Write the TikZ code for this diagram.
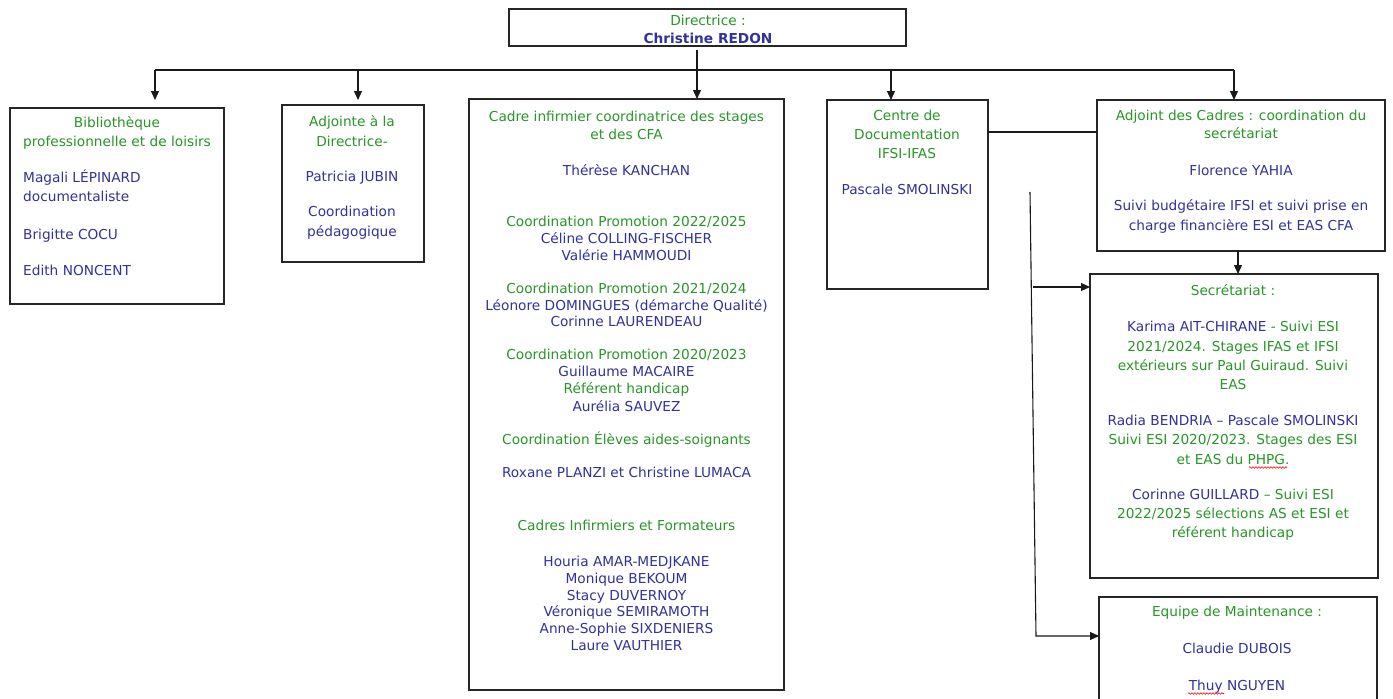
\documentclass[tikz,border=0pt]{standalone}
\usepackage{fontspec}
\setmainfont{DejaVu Sans}
\usetikzlibrary{arrows.meta,decorations.pathmorphing}
\definecolor{gr}{RGB}{40,150,40}
\definecolor{bl}{RGB}{50,50,155}
\newcommand\fsz{\fontsize{13.7}{16.5}\selectfont}
\tikzset{
  box/.style={draw=black!85, line width=1.1pt, inner sep=0pt, outer sep=0pt, anchor=north west},
  t/.style={anchor=base, inner sep=0pt, font=\fsz},
  g/.style={t, text=gr},
  b/.style={t, text=bl},
  bw/.style={b, anchor=base west},
  conn/.style={draw=black!90, line width=1.1pt},
  arr/.style={conn, -{Triangle[length=9pt,width=8pt]}},
  squig/.style={draw=red, line width=0.6pt, decorate, decoration={snake, amplitude=0.8pt, segment length=3pt}}
}
\begin{document}
\begin{tikzpicture}[x=1pt,y=-1pt]
\useasboundingbox (0,0) rectangle (1393,699);
\clip (0,0) rectangle (1393,699);
\fill[white] (0,0) rectangle (1393,699);

% boxes
\node[box, minimum width=397pt, minimum height=37pt] (dir) at (509,9) {};
\node[box, minimum width=214pt, minimum height=196pt] (bib) at (10,108) {};
\node[box, minimum width=142pt, minimum height=157pt] (adj) at (282,105) {};
\node[box, minimum width=315pt, minimum height=591pt] (cad) at (469,99) {};
\node[box, minimum width=161pt, minimum height=189pt] (cen) at (827,100) {};
\node[box, minimum width=288pt, minimum height=151pt] (adc) at (1097,100) {};
\node[box, minimum width=288pt, minimum height=304pt] (sec) at (1090,274) {};
\node[box, minimum width=278pt, minimum height=130pt] (equ) at (1099,597) {};

% connectors
\coordinate (stem) at (697,50);
\coordinate (bl) at (155,70);
\coordinate (br) at (1234,70);
\coordinate (ba) at (358,70);
\coordinate (bc) at (891,70);
\draw[conn] (bl) -- (br);
\draw[arr] (stem) -- (stem |- cad.north);
\draw[arr, shorten >=8pt] (bl) -- (bl |- bib.north);
\draw[arr, shorten >=5pt] (ba) -- (ba |- adj.north);
\draw[arr] (bc) -- (bc |- cen.north);
\draw[arr] (br) -- (br |- adc.north);
\coordinate (ab) at (1238,251);
\draw[arr] (ab) -- (ab |- sec.north);
\draw[conn] ([yshift=-32pt]cen.north east) -- ([yshift=-32pt]adc.north west);
\coordinate (vt) at (1030,192);
\coordinate (vb) at (1036,636);
\coordinate (va) at (1033,287);
\draw[arr] (va) -- (va -| sec.west);
\draw[arr] (vt) -- (vb) -- (vb -| equ.west);

% Directrice
\node[g] (d1) at (708,25) {Directrice :};
\node[b, font=\fsz\bfseries] (d2) at (708,43.5) {Christine REDON};

% Bibliotheque
\node[g] (b1) at (117,127) {Bibliothèque};
\node[g] (b2) at (117,146.5) {professionnelle et de loisirs};
\node[bw] (b3) at (23,182) {Magali LÉPINARD};
\node[bw] (b4) at (23,201.5) {documentaliste};
\node[bw] (b5) at (23,239) {Brigitte COCU};
\node[bw] (b6) at (23,275) {Edith NONCENT};

% Adjointe
\node[g] (a1) at (352,126.5) {Adjointe à la};
\node[g] (a2) at (352,146) {Directrice-};
\node[b] (a3) at (352,181) {Patricia JUBIN};
\node[b] (a4) at (352,216.5) {Coordination};
\node[b] (a5) at (352,236) {pédagogique};

% Cadre
\node[g] (c1) at (626.5,121) {Cadre infirmier coordinatrice des stages};
\node[g] (c2) at (626.5,139.5) {et des CFA};
\node[b] (c3) at (626.5,175) {Thérèse KANCHAN};
\node[g] (c4) at (626.5,226.5) {Coordination Promotion 2022/2025};
\node[b] (c5) at (626.5,243.5) {Céline COLLING-FISCHER};
\node[b] (c6) at (626.5,260.5) {Valérie HAMMOUDI};
\node[g] (c7) at (626.5,293) {Coordination Promotion 2021/2024};
\node[b] (c8) at (626.5,310) {Léonore DOMINGUES (démarche Qualité)};
\node[b] (c9) at (626.5,326.5) {Corinne LAURENDEAU};
\node[g] (c10) at (626.5,359.5) {Coordination Promotion 2020/2023};
\node[b] (c11) at (626.5,376) {Guillaume MACAIRE};
\node[g] (c12) at (626.5,393) {Référent handicap};
\node[b] (c13) at (626.5,411) {Aurélia SAUVEZ};
\node[g] (c14) at (626.5,444) {Coordination Élèves aides-soignants};
\node[b] (c15) at (626.5,477.5) {Roxane PLANZI et Christine LUMACA};
\node[g] (c16) at (626.5,530) {Cadres Infirmiers et Formateurs};
\node[b] (c17) at (626.5,566.5) {Houria AMAR-MEDJKANE};
\node[b] (c18) at (626.5,583) {Monique BEKOUM};
\node[b] (c19) at (626.5,600) {Stacy DUVERNOY};
\node[b] (c20) at (626.5,616.5) {Véronique SEMIRAMOTH};
\node[b] (c21) at (626.5,633) {Anne-Sophie SIXDENIERS};
\node[b] (c22) at (626.5,650) {Laure VAUTHIER};

% Centre de documentation
\node[g] (e1) at (907,120) {Centre de};
\node[g] (e2) at (907,139) {Documentation};
\node[g] (e3) at (907,158) {IFSI-IFAS};
\node[b] (e4) at (907,194) {Pascale SMOLINSKI};

% Adjoint des cadres
\node[g] (f1) at (1241,120) {Adjoint des Cadres : coordination du};
\node[g] (f2) at (1241,138.5) {secrétariat};
\node[b] (f3) at (1241,175) {Florence YAHIA};
\node[b] (f4) at (1241,210) {Suivi budgétaire IFSI et suivi prise en};
\node[b] (f5) at (1241,230) {charge financière ESI et EAS CFA};

% Secretariat
\node[g] (s1) at (1233,295.5) {Secrétariat :};
\node[g] (s2) at (1233,331.5) {{\color{bl}Karima AIT-CHIRANE} - Suivi ESI};
\node[g] (s3) at (1233,351) {2021/2024. Stages IFAS et IFSI};
\node[g] (s4) at (1233,370) {extérieurs sur Paul Guiraud. Suivi};
\node[g] (s5) at (1233,389) {EAS};
\node[b] (s6) at (1233,425) {Radia BENDRIA – Pascale SMOLINSKI};
\node[g] (s7) at (1233,444.5) {Suivi ESI 2020/2023. Stages des ESI};
\node[g] (s8) at (1233,464) {et EAS du PHPG.};
\node[g] (s9) at (1233,499.5) {{\color{bl}Corinne GUILLARD} – Suivi ESI};
\node[g] (s10) at (1233,518.5) {2022/2025 sélections AS et ESI et};
\node[g] (s11) at (1233,537.5) {référent handicap};

% Equipe de maintenance
\node[g] (q1) at (1237,616.5) {Equipe de Maintenance :};
\node[b] (q2) at (1237,653.5) {Claudie DUBOIS};
\node[b] (q3) at (1237,690) {Thuy NGUYEN};

% spell-check marks
\draw[squig] (1249,467.5) -- (1287,467.5);
\draw[squig] (1188,693.5) -- (1224,693.5);
\end{tikzpicture}
\end{document}
